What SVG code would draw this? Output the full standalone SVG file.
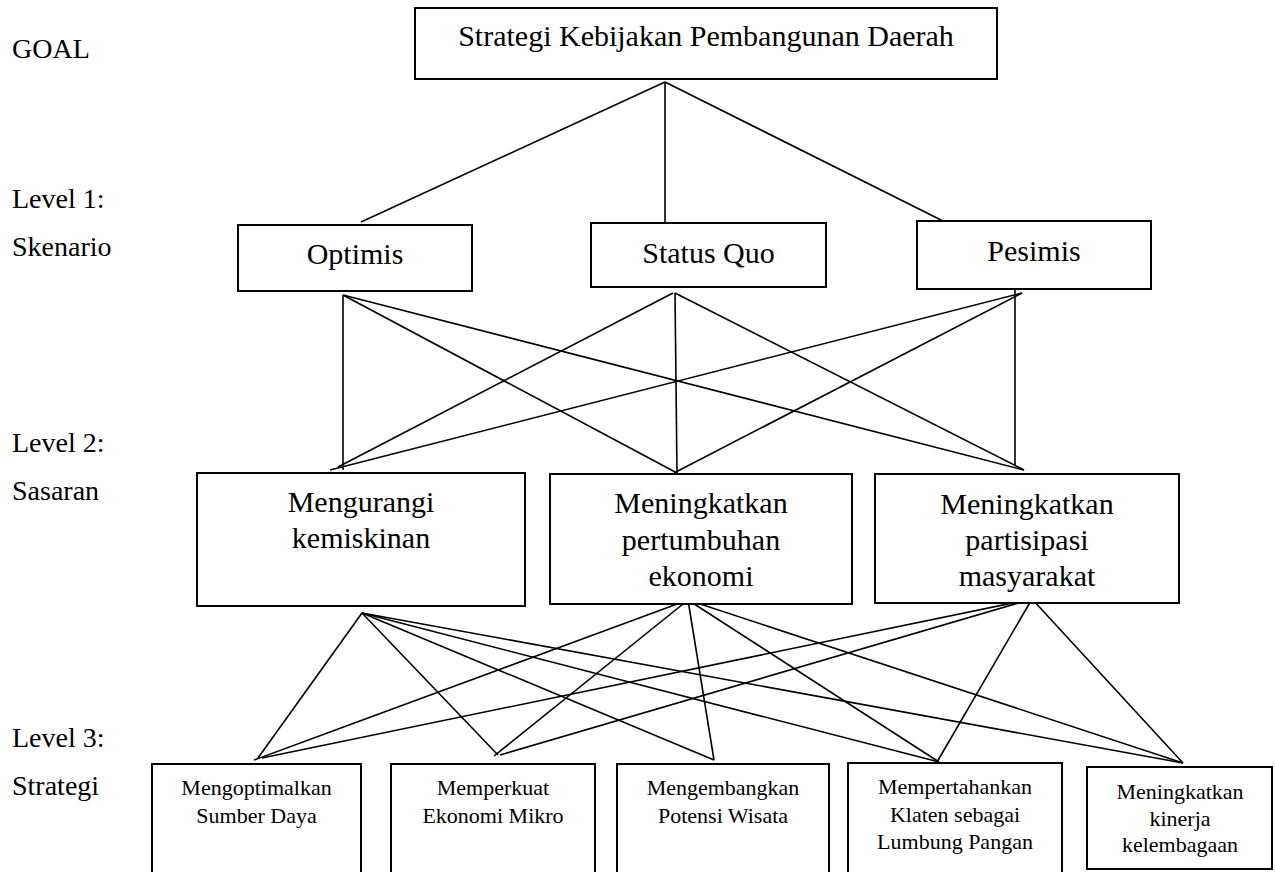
<svg xmlns="http://www.w3.org/2000/svg" width="1275" height="872" viewBox="0 0 1275 872">
<style>
.box{fill:#fff;stroke:#000;stroke-width:2}
text{font-family:'Liberation Serif','Times New Roman',serif;fill:#000}
.t{text-anchor:middle}
.lbl{font-size:28px}
.t30{font-size:30px}
.t22{font-size:22px}
.c line{stroke:#000;stroke-width:1.6}
</style>
<rect width="1275" height="872" fill="#fff"/>
<g id="labels">
<text class="lbl" x="12" y="58">GOAL</text>
<text class="lbl" x="12" y="208">Level 1:</text>
<text class="lbl" x="12" y="256">Skenario</text>
<text class="lbl" x="12" y="452">Level 2:</text>
<text class="lbl" x="12" y="500">Sasaran</text>
<text class="lbl" x="12" y="747">Level 3:</text>
<text class="lbl" x="12" y="795">Strategi</text>
</g>
<g class="c" id="connectors">
<line x1="665" y1="82" x2="361" y2="222"/>
<line x1="665" y1="82" x2="665" y2="222"/>
<line x1="665" y1="82" x2="945" y2="222"/>
<line x1="343" y1="295" x2="343" y2="470"/>
<line x1="343" y1="295" x2="677" y2="473"/>
<line x1="343" y1="295" x2="1024" y2="470"/>
<line x1="673" y1="293" x2="338" y2="467"/>
<line x1="675" y1="293" x2="677" y2="473"/>
<line x1="675" y1="293" x2="1024" y2="470"/>
<line x1="1022" y1="293" x2="330" y2="470"/>
<line x1="1022" y1="293" x2="674" y2="473"/>
<line x1="1015" y1="280" x2="1015" y2="465"/>
<line x1="362" y1="613" x2="258" y2="758"/>
<line x1="362" y1="613" x2="498" y2="755"/>
<line x1="362" y1="613" x2="714" y2="760"/>
<line x1="362" y1="613" x2="939" y2="762"/>
<line x1="362" y1="613" x2="1183" y2="763"/>
<line x1="688" y1="600" x2="254" y2="760"/>
<line x1="688" y1="600" x2="494" y2="756"/>
<line x1="688" y1="600" x2="714" y2="760"/>
<line x1="688" y1="600" x2="939" y2="762"/>
<line x1="688" y1="600" x2="1183" y2="763"/>
<line x1="1032" y1="599" x2="262" y2="758"/>
<line x1="1032" y1="599" x2="500" y2="755"/>
<line x1="1032" y1="599" x2="937" y2="762"/>
<line x1="1032" y1="599" x2="1183" y2="763"/>
</g>
<g id="goal">
<rect class="box" x="415" y="8" width="582" height="71"/>
<text class="t t30" x="706" y="46">Strategi Kebijakan Pembangunan Daerah</text>
</g>
<g id="optimis">
<rect class="box" x="238" y="225" width="234" height="66"/>
<text class="t t30" x="355" y="264">Optimis</text>
</g>
<g id="statusquo">
<rect class="box" x="591" y="223" width="235" height="64"/>
<text class="t t30" x="708.5" y="263">Status Quo</text>
</g>
<g id="pesimis">
<rect class="box" x="917" y="221" width="234" height="68"/>
<text class="t t30" x="1034" y="261">Pesimis</text>
</g>
<g id="kemiskinan">
<rect class="box" x="197" y="473" width="328" height="133"/>
<text class="t t30" x="361" y="512">Mengurangi</text>
<text class="t t30" x="361" y="548">kemiskinan</text>
</g>
<g id="ekonomi">
<rect class="box" x="550" y="474" width="302" height="130"/>
<text class="t t30" x="701" y="513">Meningkatkan</text>
<text class="t t30" x="701" y="550">pertumbuhan</text>
<text class="t t30" x="701" y="586">ekonomi</text>
</g>
<g id="partisipasi">
<rect class="box" x="875" y="474" width="304" height="129"/>
<text class="t t30" x="1027" y="514">Meningkatkan</text>
<text class="t t30" x="1027" y="550">partisipasi</text>
<text class="t t30" x="1027" y="586">masyarakat</text>
</g>
<g id="s1">
<rect class="box" x="152" y="764" width="209" height="110"/>
<text class="t t22" x="256.5" y="795">Mengoptimalkan</text>
<text class="t t22" x="256.5" y="823">Sumber Daya</text>
</g>
<g id="s2">
<rect class="box" x="391" y="764" width="204" height="110"/>
<text class="t t22" x="493" y="795">Memperkuat</text>
<text class="t t22" x="493" y="823">Ekonomi Mikro</text>
</g>
<g id="s3">
<rect class="box" x="617" y="764" width="212" height="110"/>
<text class="t t22" x="723" y="795">Mengembangkan</text>
<text class="t t22" x="723" y="823">Potensi Wisata</text>
</g>
<g id="s4">
<rect class="box" x="848" y="763" width="214" height="111"/>
<text class="t t22" x="955" y="794">Mempertahankan</text>
<text class="t t22" x="955" y="822">Klaten sebagai</text>
<text class="t t22" x="955" y="849">Lumbung Pangan</text>
</g>
<g id="s5">
<rect class="box" x="1087" y="767" width="185" height="102"/>
<text class="t t22" x="1180" y="799">Meningkatkan</text>
<text class="t t22" x="1180" y="826">kinerja</text>
<text class="t t22" x="1180" y="852">kelembagaan</text>
</g>
</svg>
